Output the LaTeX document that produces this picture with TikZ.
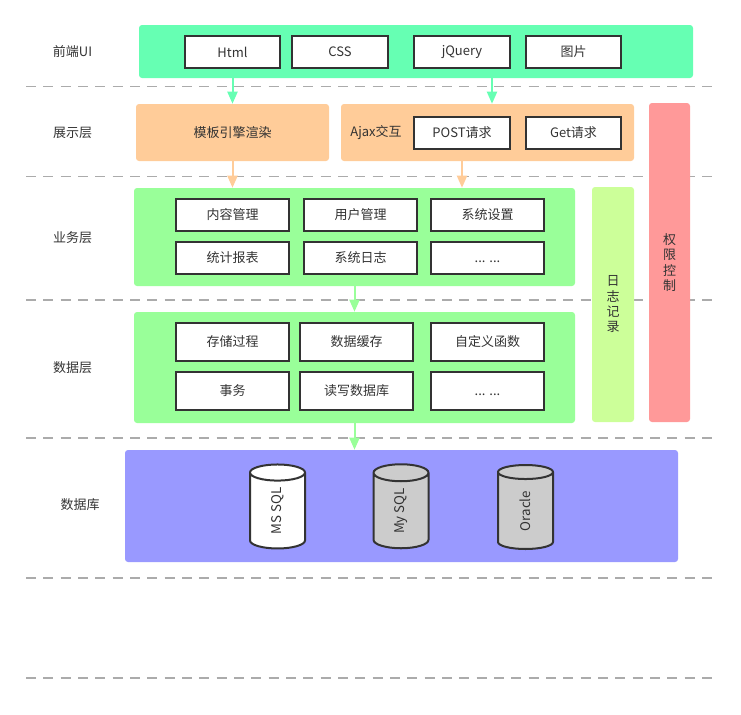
\documentclass[tikz,border=0pt]{standalone}
\usepackage{fontspec}
\setmainfont{Noto Sans CJK SC}
\usetikzlibrary{shapes.geometric,arrows.meta,calc}
\definecolor{cmint}{HTML}{66FFB3}
\definecolor{corange}{HTML}{FFCC99}
\definecolor{cgreen}{HTML}{99FF99}
\definecolor{clime}{HTML}{CCFF99}
\definecolor{cred}{HTML}{FF9999}
\definecolor{cpurple}{HTML}{9999FF}
\definecolor{cgray}{HTML}{CCCCCC}
\definecolor{ctext}{HTML}{333333}
\definecolor{cdash}{HTML}{ABABAB}
\def\PX{0.75pt}
\tikzset{
  every node/.style={text=ctext, font=\fontsize{9.75}{12}\selectfont, inner sep=0pt},
  layer/.style={rectangle, rounded corners=2.25pt, draw=none},
  item/.style={rectangle, fill=white, draw=ctext, line width=1.5pt},
  sep/.style={draw=cdash, line width=0.8pt, dash pattern=on 7.5pt off 5.5pt},
  arr/.style={line width=1.5pt, -{Triangle[width=7.5pt,length=9pt]}},
  db/.style={cylinder, rotate=90, draw=ctext, line width=1.5pt, aspect=1.3,
    minimum width=55*\PX, minimum height=84*\PX, font=\fontsize{10}{12}\selectfont},
}
\newcommand\dotsx{\vphantom{事}{.}{.}{.} {.}{.}{.}}
\begin{document}
\begin{tikzpicture}[x=0.75pt,y=-0.75pt]
\useasboundingbox (0,0) rectangle (741,714);
% separators
\foreach \yy in {86.5,176.5,300,438,578,678}
  \draw[sep] (26,\yy) -- (717,\yy);
% row labels
\node (lui) at (72.5,52) {前端UI};
\node (lshow) at (72.5,133) {展示层};
\node (lbiz) at (72.5,238) {业务层};
\node (ldata) at (72.5,368) {数据层};
\node (ldb) at (80,505) {数据库};
% front UI
\node[layer, fill=cmint, minimum width=554*\PX, minimum height=53*\PX] (ui) at (416,51.5) {};
\node[item, minimum width=95*\PX, minimum height=32*\PX] (html) at (232.5,52) {Html};
\node[item, minimum width=96*\PX, minimum height=32*\PX] (css) at (340,52) {CSS};
\node[item, minimum width=96*\PX, minimum height=32*\PX] (jq) at (462,52) {jQuery};
\node[item, minimum width=95*\PX, minimum height=32*\PX] (img) at (573.5,52) {图片};
% presentation
\node[layer, fill=corange, minimum width=193*\PX, minimum height=57*\PX] (tpl) at (232.5,132.5) {模板引擎渲染};
\node[layer, fill=corange, minimum width=293*\PX, minimum height=57*\PX] (ajax) at (487.5,132.5) {};
\node (ajaxt) at (376,133) {Ajax交互};
\node[item, minimum width=96*\PX, minimum height=32*\PX] (post) at (462,133) {POST请求};
\node[item, minimum width=95*\PX, minimum height=32*\PX] (get) at (573.5,133) {Get请求};
% business
\node[layer, fill=cgreen, minimum width=441*\PX, minimum height=98*\PX] (biz) at (354.5,237) {};
\node[item, minimum width=113*\PX, minimum height=32*\PX] (b1) at (232.5,215) {内容管理};
\node[item, minimum width=113*\PX, minimum height=32*\PX] (b2) at (360.5,215) {用户管理};
\node[item, minimum width=113*\PX, minimum height=32*\PX] (b3) at (487.5,215) {系统设置};
\node[item, minimum width=113*\PX, minimum height=32*\PX] (b4) at (232.5,258) {统计报表};
\node[item, minimum width=113*\PX, minimum height=32*\PX] (b5) at (360.5,258) {系统日志};
\node[item, minimum width=113*\PX, minimum height=32*\PX] (b6) at (487.5,258) {\dotsx};
% data
\node[layer, fill=cgreen, minimum width=441*\PX, minimum height=111*\PX] (data) at (354.5,367.5) {};
\node[item, minimum width=113*\PX, minimum height=38*\PX] (d1) at (232.5,342) {存储过程};
\node[item, minimum width=113*\PX, minimum height=38*\PX] (d2) at (356.5,342) {数据缓存};
\node[item, minimum width=113*\PX, minimum height=38*\PX] (d3) at (487.5,342) {自定义函数};
\node[item, minimum width=113*\PX, minimum height=38*\PX] (d4) at (232.5,391) {事务};
\node[item, minimum width=113*\PX, minimum height=38*\PX] (d5) at (356.5,391) {读写数据库};
\node[item, minimum width=113*\PX, minimum height=38*\PX] (d6) at (487.5,391) {\dotsx};
% side bars
\node[layer, fill=clime, minimum width=42*\PX, minimum height=235*\PX, align=center,
  font=\fontsize{9.75}{11.5}\selectfont] (log) at (613,304.5) {日\\志\\记\\录};
\node[layer, fill=cred, minimum width=41*\PX, minimum height=319*\PX, align=center,
  font=\fontsize{9.75}{11.5}\selectfont] (auth) at (669.5,262.5) {权\\限\\控\\制};
% database
\node[layer, fill=cpurple, minimum width=553*\PX, minimum height=112*\PX] (dbbox) at (401.5,506) {};
\node[db, fill=white] (ms) at (277.5,511) {MS SQL};
\node[db, fill=cgray] (my) at (401,511) {My SQL};
\node[db, fill=cgray] (ora) at (525.5,511) {Oracle};
% arrows
\draw[arr, draw=cmint, fill=cmint] (ui.south -| tpl.north) -- (tpl.north);
\draw[arr, draw=cmint, fill=cmint] ($(ui.south -| ajax.north)+(4.5,0)$) -- ($(ajax.north)+(4.5,0)$);
\draw[arr, draw=corange, fill=corange] (tpl.south) -- (tpl.south |- biz.north);
\draw[arr, draw=corange, fill=corange] (ajax.south -| post.south) -- (post.south |- biz.north);
\draw[arr, draw=cgreen, fill=cgreen] (biz.south) -- (data.north);
\draw[arr, draw=cgreen, fill=cgreen] (data.south) -- (data.south |- dbbox.north);
\end{tikzpicture}
\end{document}
